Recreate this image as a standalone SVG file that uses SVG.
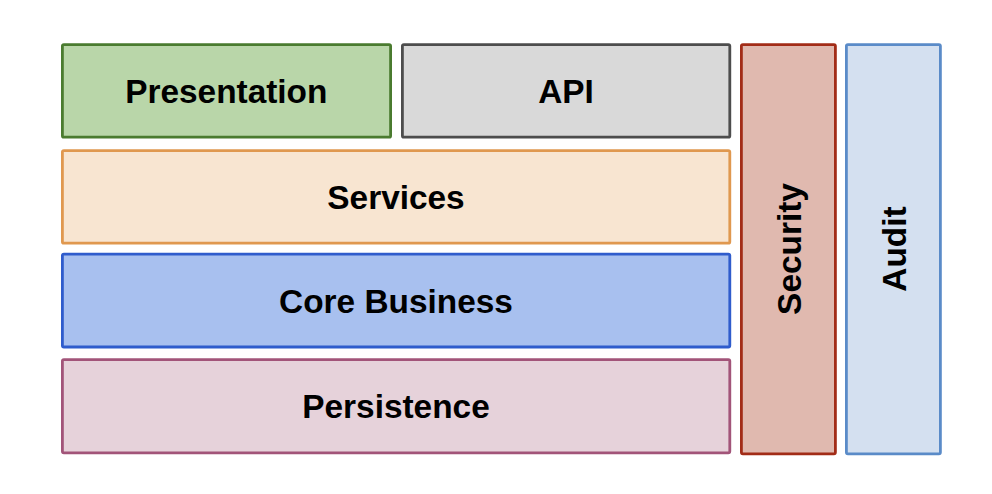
<svg xmlns="http://www.w3.org/2000/svg" width="992" height="494" viewBox="0 0 992 494">
<style>
rect{stroke-width:2.8}
text{font-family:"Liberation Sans",Arial,sans-serif;font-weight:bold;font-size:33.4px;fill:#000;text-anchor:middle}
</style>
<rect width="992" height="494" fill="#ffffff" stroke="none"/>
<g id="presentation"><rect x="62.4" y="44.6" width="328.2" height="92.6" rx="1.5" fill="#b9d6a9" stroke="#4a7b2f"/><text x="226.3" y="102.8">Presentation</text></g>
<g id="api"><rect x="402.4" y="44.6" width="327.4" height="92.6" rx="1.5" fill="#d9d9d9" stroke="#4d4d4d"/><text x="566" y="102.8">API</text></g>
<g id="services"><rect x="62.4" y="150.6" width="667.4" height="92.6" rx="1.5" fill="#f8e5d1" stroke="#e0984f"/><text x="396" y="208.8">Services</text></g>
<g id="core-business"><rect x="62.4" y="254.1" width="667.4" height="92.9" rx="1.5" fill="#a8c0ef" stroke="#2f5ccc"/><text x="396" y="312.6">Core Business</text></g>
<g id="persistence"><rect x="62.4" y="359.6" width="667.4" height="93.2" rx="1.5" fill="#e6d2da" stroke="#a25479"/><text x="396" y="418.1">Persistence</text></g>
<g id="security"><rect x="741.4" y="44.6" width="94" height="409.2" rx="1.5" fill="#e0b9af" stroke="#a22c17"/><text transform="translate(800.5,249) rotate(-90)">Security</text></g>
<g id="audit"><rect x="846.4" y="44.6" width="94" height="409.2" rx="1.5" fill="#d4e0f0" stroke="#5a8bc8"/><text transform="translate(905.5,249) rotate(-90)">Audit</text></g>
<g id="connectors"></g>
</svg>
